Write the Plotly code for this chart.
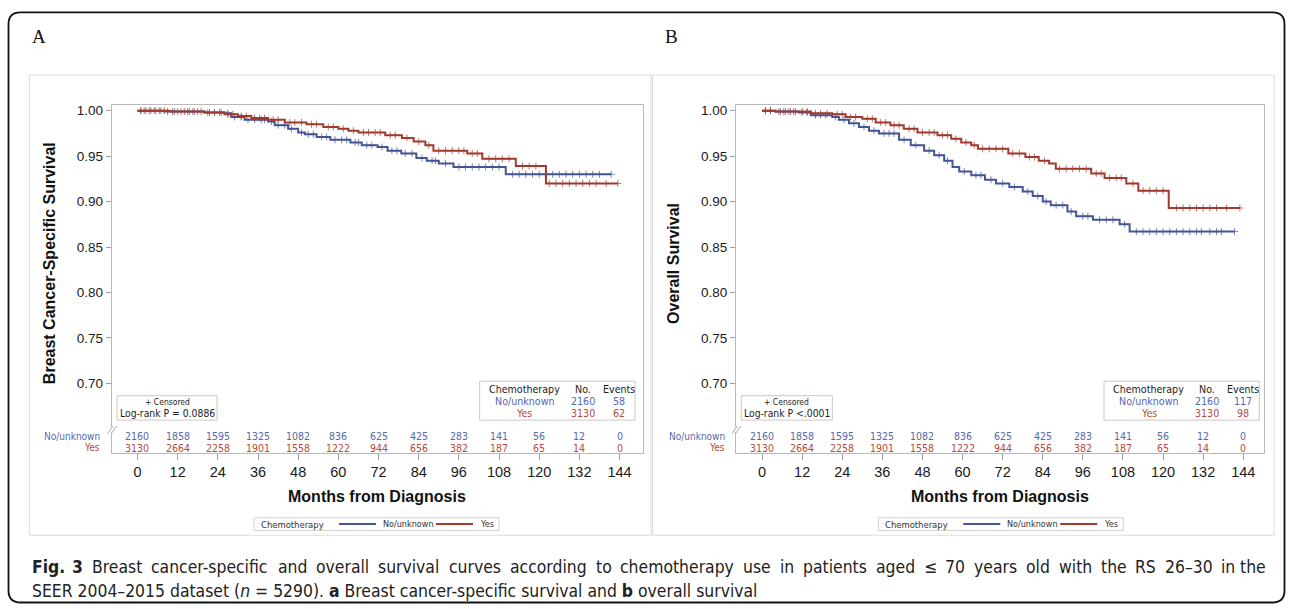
import bisect
import plotly.graph_objects as go

# ---------------- data ----------------
month_ticks = [0, 12, 24, 36, 48, 60, 72, 84, 96, 108, 120, 132, 144]
y_ticks = [0.70, 0.75, 0.80, 0.85, 0.90, 0.95, 1.00]
groups = ["No/unknown", "Yes"]
group_title = "Chemotherapy"

# Panel A: breast cancer-specific survival (step curves)
a_no_t = [0, 8, 20, 26, 28, 32, 39, 41, 45, 48, 50, 53.5, 57.6, 63.6, 67, 71.7, 74.7, 78.8, 83.3, 86.4, 90, 94.4, 110, 141.5]
a_no_s = [1.000, 0.999, 0.998, 0.997, 0.993, 0.990, 0.988, 0.984, 0.980, 0.976, 0.974, 0.971, 0.968, 0.965, 0.962, 0.960, 0.956, 0.953, 0.948, 0.945, 0.942, 0.938, 0.930, 0.930]
a_yes_t = [0, 9.6, 20, 26, 30, 34, 39, 44, 50.5, 55.5, 60, 63, 66, 74, 79, 82.5, 86, 88.4, 98.5, 103, 113, 122, 143.5]
a_yes_s = [1.000, 0.999, 0.998, 0.996, 0.994, 0.992, 0.990, 0.987, 0.985, 0.982, 0.980, 0.978, 0.976, 0.973, 0.970, 0.966, 0.962, 0.956, 0.953, 0.947, 0.939, 0.920, 0.920]

# Panel B: overall survival (step curves)
b_no_t = [0, 4, 11, 14.6, 21, 23, 26, 29, 32, 35, 41, 44.5, 48.5, 51.5, 54.5, 57, 59, 62.6, 66.7, 70, 74, 78, 81, 84, 86.4, 91.4, 94, 99, 107, 110, 141.4]
b_no_s = [1.000, 0.999, 0.998, 0.995, 0.993, 0.990, 0.986, 0.982, 0.978, 0.975, 0.968, 0.962, 0.956, 0.951, 0.945, 0.938, 0.933, 0.929, 0.924, 0.920, 0.916, 0.911, 0.906, 0.900, 0.896, 0.889, 0.884, 0.880, 0.875, 0.867, 0.867]
b_yes_t = [0, 4, 14.6, 21, 25, 30, 34, 38.4, 42.4, 46.5, 52.5, 56.6, 59.6, 62.6, 64.6, 73.7, 78.8, 82.8, 85.9, 87.9, 98.5, 102.5, 109, 112.6, 121.7, 143]
b_yes_s = [1.000, 0.999, 0.997, 0.996, 0.993, 0.991, 0.987, 0.984, 0.980, 0.976, 0.973, 0.969, 0.965, 0.962, 0.958, 0.953, 0.949, 0.945, 0.942, 0.936, 0.931, 0.926, 0.920, 0.912, 0.893, 0.893]

# censoring times (read from the "+" marks)
a_no_cens = [1, 2.5, 4, 5.5, 7, 9, 11, 13, 15, 16.5, 18, 21, 23, 25, 27, 29, 31, 33, 35, 37, 38, 40, 42, 44, 46, 49, 51, 52.5, 55, 56.5, 59, 61, 62.5, 65, 66, 68.5, 70, 73, 76, 77.5, 80, 82, 85, 88, 89, 92, 96, 98, 100, 102, 104, 106, 108, 112, 114, 116, 118, 120, 122, 124, 126, 128, 130, 132, 134, 136, 138, 141.5]
a_yes_cens = [1, 2, 3.5, 5, 6.5, 8, 10.5, 12, 14, 15.5, 17, 19, 21.5, 23, 24.5, 27, 28.5, 31, 32.5, 35, 36.5, 38, 40.5, 42, 45.5, 47, 49, 52, 53.5, 57, 58.5, 61.5, 64.5, 67.5, 69, 71, 72.5, 75.5, 77, 80.5, 84, 87, 90, 92, 94, 96, 97.5, 100, 101.5, 105, 107, 109, 111, 115, 117, 119, 123, 125, 127, 129, 131, 133, 135, 137, 140, 143.5]
b_no_cens = [1, 2.5, 5, 6.5, 8, 9.5, 12, 13.5, 16, 17.5, 19, 22, 24.5, 27.5, 30.5, 33.5, 36.5, 38, 39.5, 42.5, 46, 50, 53, 55.5, 60.5, 64, 65.5, 68.5, 72, 75.5, 79.5, 82.5, 85, 88, 90, 92.5, 96, 97.5, 101, 103, 105, 108.5, 112, 114, 116, 118, 120, 122, 124, 126, 128, 130, 131.5, 134, 136, 137.5, 141.4]
b_yes_cens = [1, 2.5, 5.5, 7, 8.5, 10, 12, 13.5, 16, 17.5, 19.5, 22.5, 24, 26.5, 28, 31.5, 33, 35.5, 37, 39.5, 41, 44, 45.5, 48, 50, 51.5, 54, 55.5, 58, 61, 63.5, 66, 68, 70, 72, 75, 77, 80, 81.5, 84.5, 89, 91, 93, 95, 97, 100, 101.5, 104, 106, 107.5, 111, 114, 116, 118, 120, 124, 126, 128, 130, 132, 134, 136, 139, 143]

# numbers at risk
at_risk_no = [2160, 1858, 1595, 1325, 1082, 836, 625, 425, 283, 141, 56, 12, 0]
at_risk_yes = [3130, 2664, 2258, 1901, 1558, 1222, 944, 656, 382, 187, 65, 14, 0]
n_total = [2160, 3130]
events_a = [58, 62]
events_b = [117, 98]
pval_text = ["Log-rank P = 0.0886", "Log-rank P <.0001"]
panel_letters = ["A", "B"]
y_titles = ["Breast Cancer-Specific Survival", "Overall Survival"]
x_title = "Months from Diagnosis"
caption_1 = "Fig. 3 Breast cancer-specific and overall survival curves according to chemotherapy use in patients aged ≤ 70 years old with the RS 26–30 in the"
caption_1_bold_words = 2
caption_2 = "SEER 2004–2015 dataset (<i>n</i> = 5290). <b>a</b> Breast cancer-specific survival and <b>b</b> overall survival"

# ---------------- styling ----------------
W, H = 1292, 609
BLUE = "#445694"
RED = "#A23A2E"
BLUE_T = "#5568AE"
RED_T = "#B54A3E"
FRAME = "#b9b9b9"
SANS = "Liberation Sans, Arial, sans-serif"
NARROW = "DejaVu Sans Condensed, Liberation Sans, sans-serif"
SERIF = "Liberation Serif, Times New Roman, serif"


def px(x):
    return x / W


def py(y):
    return 1 - y / H


def step_at(ts, ss, t):
    i = bisect.bisect_right(ts, t) - 1
    return ss[max(i, 0)]


def note(text, x, y, size, color="#222", family=NARROW, xanchor="center", xref="paper", angle=0):
    return dict(text=text, x=x, y=y, xref=xref, yref="paper", xanchor=xanchor, yanchor="middle",
                showarrow=False, textangle=angle, font=dict(family=family, size=size, color=color))


fig = go.Figure()

panels = [
    dict(curves=[(a_no_t, a_no_s, a_no_cens), (a_yes_t, a_yes_s, a_yes_cens)], events=events_a,
         left=111.7, right=643.0, xr=[-7.7, 151.0]),
    dict(curves=[(b_no_t, b_no_s, b_no_cens), (b_yes_t, b_yes_s, b_yes_cens)], events=events_b,
         left=736.0, right=1264.3, xr=[-7.8, 150.3]),
]
colors = [BLUE, RED]
tcolors = [BLUE_T, RED_T]
top_px, bot_px = 103.3, 452.0
y_range = [0.62404, 1.00625]

shapes = []
annotations = []

for p, pan in enumerate(panels):
    xa = "x" if p == 0 else "x2"
    ya = "y" if p == 0 else "y2"
    for g, (ts, ss, cens) in enumerate(pan["curves"]):
        fig.add_trace(go.Scatter(x=ts, y=ss, mode="lines", line=dict(color=colors[g], width=2, shape="hv"),
                                 xaxis=xa, yaxis=ya, showlegend=False, hoverinfo="skip"))
        cy = [step_at(ts, ss, t) for t in cens]
        fig.add_trace(go.Scatter(x=cens, y=cy, mode="markers",
                                 marker=dict(symbol="cross-thin", size=5, line=dict(color=colors[g], width=1), color=colors[g]),
                                 opacity=0.7, xaxis=xa, yaxis=ya, showlegend=False, hoverinfo="skip"))
    L, R = pan["left"], pan["right"]
    dx = L - 111.7
    axis_common = dict(showline=True, linecolor=FRAME, linewidth=1, mirror=True, showgrid=False, zeroline=False,
                       ticks="outside", tickcolor="#a0a0a0")
    fig.update_layout(**{
        ("xaxis" if p == 0 else "xaxis2"): dict(domain=[px(L), px(R)], range=pan["xr"], tickvals=month_ticks,
                                                ticklen=6, tickfont=dict(family=SANS, size=14.5, color="#1a1a1a"),
                                                anchor=ya, **axis_common),
        ("yaxis" if p == 0 else "yaxis2"): dict(domain=[py(bot_px), py(top_px)], range=y_range, tickvals=y_ticks,
                                                ticktext=["%.2f" % v for v in y_ticks], ticklen=5,
                                                tickfont=dict(family=SANS, size=13.5, color="#1a1a1a"),
                                                anchor=xa, **axis_common),
    })
    annotations.append(note(panel_letters[p], px(30 + (633 if p else 0)), py(35), 19, "#111", SERIF, "left"))
    bx0, bx1 = (29.3, 651.0) if p == 0 else (652.5, 1274.0)
    shapes.append(dict(type="rect", xref="paper", yref="paper", x0=px(bx0), x1=px(bx1), y0=py(535), y1=py(73.3),
                       line=dict(color="#dcdcdc", width=1)))
    annotations.append(note("<b>%s</b>" % x_title, px((L + R) / 2), py(496), 16, "#111", SANS))
    annotations.append(note("<b>%s</b>" % y_titles[p], px(49.5 + dx - (0.5 if p else 0)), py(262.5), 16, "#111",
                            SANS, angle=-90))
    # axis break marks
    shapes.append(dict(type="line", xref="paper", yref="paper", x0=px(L), x1=px(L), y0=py(426.5), y1=py(431.5),
                       line=dict(color="white", width=3)))
    for off in (-2.5, 1.0):
        shapes.append(dict(type="line", xref="paper", yref="paper", x0=px(L + off - 1.5), y0=py(433),
                           x1=px(L + off + 4), y1=py(425.5), line=dict(color="#a8a8a8", width=1)))
    # numbers at risk
    rows = [at_risk_no, at_risk_yes]
    row_y = [435.7, 447.3]
    for g in range(2):
        annotations.append(note(groups[g], px(L - 9.5), py(row_y[g]), 10, tcolors[g], xanchor="right"))
        for m, v in zip(month_ticks, rows[g]):
            annotations.append(note(str(v), m, py(row_y[g]), 10.5, tcolors[g], xref=xa))
    # censored / log-rank box
    cb_x0 = L + 5.3
    cb_x1 = cb_x0 + (100 if p == 0 else 91)
    shapes.append(dict(type="rect", xref="paper", yref="paper", x0=px(cb_x0), x1=px(cb_x1), y0=py(419.5), y1=py(395),
                       line=dict(color="#c8c8c8", width=1)))
    cx = (cb_x0 + cb_x1) / 2
    annotations.append(note("+ Censored", px(cx), py(401.5), 8.5))
    annotations.append(note(pval_text[p], px(cx), py(412.3), 10.3))
    # summary box (group / No. / Events)
    sb_x0, sb_x1 = L + 368.0, L + 523.3
    shapes.append(dict(type="rect", xref="paper", yref="paper", x0=px(sb_x0), x1=px(sb_x1), y0=py(419.5), y1=py(380.5),
                       line=dict(color="#c8c8c8", width=1)))
    col_x = [L + 412.5, L + 471.0, L + 507.0]
    row_sy = [388.3, 400.3, 412.5]
    heads = [group_title, "No.", "Events"]
    for c in range(3):
        annotations.append(note(heads[c], px(col_x[c]), py(row_sy[0]), 10.6, "#222"))
    for g in range(2):
        vals = [groups[g], str(n_total[g]), str(pan["events"][g])]
        for c in range(3):
            annotations.append(note(vals[c], px(col_x[c]), py(row_sy[g + 1]), 10.6, tcolors[g]))
    # bottom legend
    lg = L + 142.3
    ly = 523.8
    shapes.append(dict(type="rect", xref="paper", yref="paper", x0=px(lg), x1=px(lg + 245), y0=py(530.2), y1=py(517.5),
                       line=dict(color="#d0d0d0", width=1)))
    annotations.append(note(group_title, px(lg + 5), py(ly), 9.4, "#333", xanchor="left"))
    for g, (l0, t0) in enumerate([(85, 127), (182, 224)]):
        shapes.append(dict(type="line", xref="paper", yref="paper", x0=px(lg + l0), x1=px(lg + l0 + 37),
                           y0=py(ly), y1=py(ly), line=dict(color=colors[g], width=2)))
        annotations.append(note(groups[g], px(lg + t0), py(ly), 9.0, "#333", xanchor="left"))

# outer rounded border
x0, x1, y0, y1, r = 8.5, 1284.5, 10.5, 602.5, 12


def P(x, y):
    return "%.6f,%.6f" % (px(x), py(y))


path = ("M " + P(x0 + r, y0) + " L " + P(x1 - r, y0) + " Q " + P(x1, y0) + " " + P(x1, y0 + r) +
        " L " + P(x1, y1 - r) + " Q " + P(x1, y1) + " " + P(x1 - r, y1) +
        " L " + P(x0 + r, y1) + " Q " + P(x0, y1) + " " + P(x0, y1 - r) +
        " L " + P(x0, y0 + r) + " Q " + P(x0, y0) + " " + P(x0 + r, y0) + " Z")
shapes.append(dict(type="path", xref="paper", yref="paper", path=path, line=dict(color="#111", width=1.8)))

# ---- caption: first line justified word by word (approximate DejaVu Sans advance widths) ----
CAP = 17.4
ADV = {' ': 651, 'a': 1255, 'b': 1300, 'c': 1126, 'd': 1300, 'e': 1260, 'f': 721, 'g': 1300, 'h': 1298,
       'i': 569, 'j': 569, 'k': 1186, 'l': 569, 'm': 1995, 'n': 1298, 'o': 1253, 'p': 1300, 'q': 1300,
       'r': 842, 's': 1067, 't': 803, 'u': 1298, 'v': 1212, 'w': 1675, 'x': 1212, 'y': 1212, 'z': 1075,
       'B': 1405, 'F': 1178, 'R': 1423, 'S': 1300, '.': 651, '-': 739, '–': 1024, '≤': 1716}


def est_width(word, bold=False):
    w = sum(ADV.get(ch, 1303) for ch in word) / 2048.0 * CAP * 0.9
    return w * (1.1 if bold else 1.0)


words = caption_1.split(" ")
widths = [est_width(w, i < caption_1_bold_words) for i, w in enumerate(words)]
# calibrate with the measured natural width of the first 10 words (render: 547 px)
k = 547.0 / (sum(widths[:10]) + 9 * est_width(" "))
widths = [w * k for w in widths]
line_left, line_right = 30.0, 1268.0
gap = (line_right - line_left - sum(widths)) / (len(words) - 1)
xpos = line_left
for i, w in enumerate(words):
    txt = "<b>%s</b>" % w if i < caption_1_bold_words else w
    if i == len(words) - 1:
        annotations.append(note(txt, px(line_right), py(567), CAP, "#222", xanchor="right"))
    else:
        annotations.append(note(txt, px(xpos), py(567), CAP, "#222", xanchor="left"))
    xpos += widths[i] + gap
annotations.append(note(caption_2, px(30), py(591), CAP, "#222", xanchor="left"))

fig.update_layout(width=W, height=H, margin=dict(l=0, r=0, t=0, b=0), paper_bgcolor="white",
                  plot_bgcolor="white", shapes=shapes, annotations=annotations, showlegend=False)

fig.write_html("out.html")
